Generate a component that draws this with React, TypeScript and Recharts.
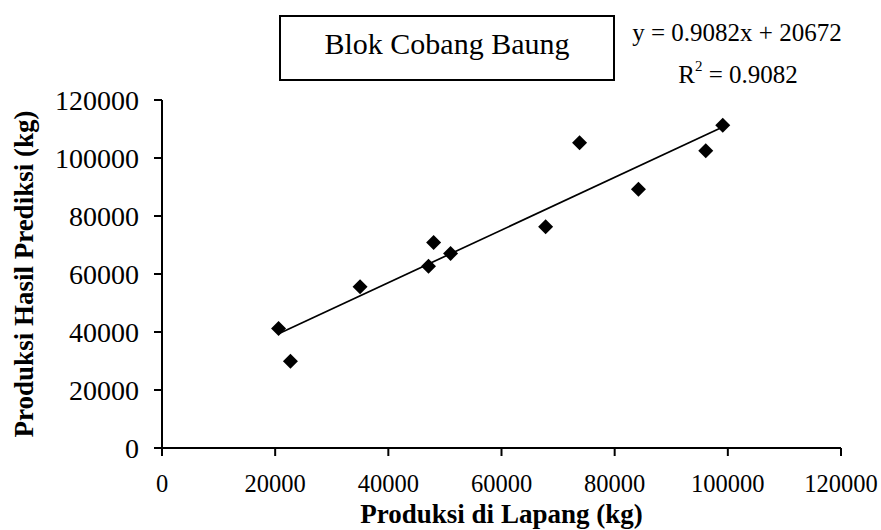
import React from 'react';
import { ScatterChart, Scatter, XAxis, YAxis, ReferenceLine } from 'recharts';

// values (kg)
const fieldProduction = [20600, 22700, 35000, 47100, 48000, 51000, 67800, 73800, 84200, 96100, 99100];
const predictedProduction = [41200, 29900, 55600, 62700, 70900, 67100, 76300, 105300, 89200, 102500, 111300];
const axisTicks = [0, 20000, 40000, 60000, 80000, 100000, 120000];

const chartTitle = 'Blok Cobang Baung';
const xTitle = 'Produksi di Lapang (kg)';
const yTitle = 'Produksi Hasil Prediksi (kg)';

// trend line as printed on the chart
const trendSlope = 0.9082;
const trendIntercept = 20672;
const trendR2 = 0.9082;

const points = fieldProduction.map((x, i) => ({ x, y: predictedProduction[i] }));
const xMin = Math.min(...fieldProduction);
const xMax = Math.max(...fieldProduction);
const trendSegment = [
  { x: xMin, y: trendSlope * xMin + trendIntercept },
  { x: xMax, y: trendSlope * xMax + trendIntercept },
];

const FONT = '"Liberation Serif", "Times New Roman", serif';

const Diamond = (props: any) => {
  const { cx, cy } = props;
  const r = 7.5;
  return <polygon points={`${cx},${cy - r} ${cx + r},${cy} ${cx},${cy + r} ${cx - r},${cy}`} fill="#000" />;
};

const YTitle = (props: any) => {
  const { viewBox } = props;
  const cy = viewBox.y + viewBox.height / 2;
  return (
    <text
      x={33}
      y={cy}
      transform={`rotate(-90, 33, ${cy})`}
      textAnchor="middle"
      fontFamily={FONT}
      fontWeight="bold"
      fontSize={27}
      fill="#000"
    >
      {yTitle}
    </text>
  );
};

const XTitle = (props: any) => {
  const { viewBox } = props;
  return (
    <text
      x={viewBox.x + viewBox.width / 2}
      y={523}
      textAnchor="middle"
      fontFamily={FONT}
      fontWeight="bold"
      fontSize={27}
      fill="#000"
    >
      {xTitle}
    </text>
  );
};

export default function App() {
  return (
    <div style={{ position: 'fixed', left: 0, top: 0, width: 881, height: 530, background: '#fff' }}>
      <ScatterChart width={881} height={530} margin={{ top: 100, right: 40, bottom: 22, left: 0 }}>
        <XAxis
          type="number"
          dataKey="x"
          domain={[0, 120000]}
          ticks={axisTicks}
          interval={0}
          height={60}
          tickSize={8}
          tickMargin={19}
          axisLine={{ stroke: '#000', strokeWidth: 2 }}
          tickLine={{ stroke: '#000', strokeWidth: 2 }}
          tick={{ fill: '#000', fontFamily: FONT, fontSize: 24.5 }}
          label={<XTitle />}
        />
        <YAxis
          type="number"
          dataKey="y"
          domain={[0, 120000]}
          ticks={axisTicks}
          interval={0}
          width={162}
          tickSize={8}
          tickMargin={15}
          axisLine={{ stroke: '#000', strokeWidth: 2 }}
          tickLine={{ stroke: '#000', strokeWidth: 2 }}
          tick={{ fill: '#000', fontFamily: FONT, fontSize: 28 }}
          label={<YTitle />}
        />
        <ReferenceLine segment={trendSegment} stroke="#000" strokeWidth={1.7} ifOverflow="visible" />
        <Scatter data={points} fill="#000" shape={<Diamond />} isAnimationActive={false} />
      </ScatterChart>
      <svg
        width={881}
        height={530}
        style={{ position: 'absolute', left: 0, top: 0, pointerEvents: 'none' }}
        fontFamily={FONT}
      >
        <rect x={280} y={16} width={334} height={64} fill="#fff" stroke="#000" strokeWidth={2} />
        <text x={447} y={54} textAnchor="middle" fontSize={30} fill="#000">
          {chartTitle}
        </text>
        <text x={737} y={40.5} textAnchor="middle" fontSize={25} fill="#000">
          {`y = ${trendSlope}x + ${trendIntercept}`}
        </text>
        <text x={738} y={82.5} textAnchor="middle" fontSize={25} fill="#000">
          R
          <tspan fontSize={15} dy={-12}>2</tspan>
          <tspan dy={12}>{` = ${trendR2}`}</tspan>
        </text>
      </svg>
    </div>
  );
}
